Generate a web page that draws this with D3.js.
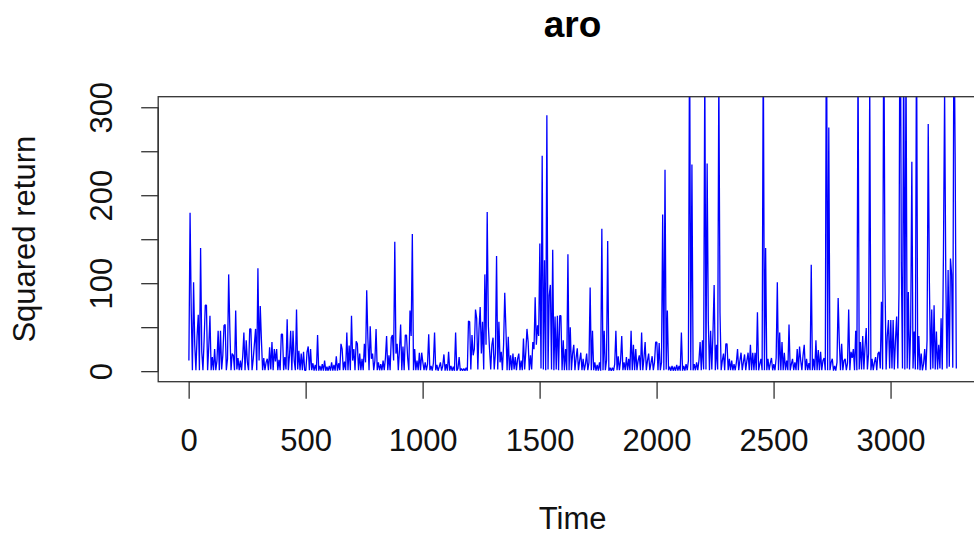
<!DOCTYPE html>
<html><head><meta charset="utf-8">
<script src="https://cdn.jsdelivr.net/npm/d3@7"></script>
<style>body{margin:0;background:#fff;overflow:hidden}</style>
</head><body>
<svg id="c" width="974" height="535"></svg>
<script>
// ---- data ----
const chartTitle = "aro";
const xAxisTitle = "Time";
const yAxisTitle = "Squared return";
const xTickValues = [0, 500, 1000, 1500, 2000, 2500, 3000];
const yTickValues = [0, 50, 100, 150, 200, 250, 300];
const yLabelledTicks = [0, 100, 200, 300];
const yLimits = [0, 300];
const timeStart = 1, timeStep = 5;

const seg0 = [12,180,69,1,101,30,1,40,64,1,140,22,1,35,75,75,1,28,63,1,16,1,25,1,12,46,1,46,2,18,52,53,1,14,110,48,1,20,18,1,69,2,15,1,12,1,17,44,1,35,10,1,48,48,1,14,31,48,1,117,12,74,35,1,15,1,10,14,1,27,2,33,1,25,11,25,1,13,1,42,42,1,16,2,59,1,18,46,1,46,12,1,70,2,23,1,20,1,22,1];
const seg1 = [1,22,28,1,25,1,9,0.5,7,0.5,41,0.5,6,0.5,8,0.5,12,0.5,5,0.5,6,0.5,10,0.5,7,0.5,17,0.5,9,1,31,25,1,11,1,44,1,29,1,63,12,25,1,34,31,1,20,1,14,1,31,10,92,37,1,51,14,20,1,12,48,1,10,1,8,1,12,1,15,40,1,18,1,38,41,12,147,20,31,1,24,53,1,28,1,41,41,15,1,69,40,156,1,25,1,12,1,21,1,21];
const seg2 = [10,1,10,1,8,42,1,6,0.5,9,44,1,7,0.5,5,10,0.5,6,19,0.5,8,0.5,22,0.5,6,0.5,5,0.5,44,0.5,3,16,0.5,3,0.5,3,0.5,4,0.5,57,56,2,41,18,25,70,60,2,48,73,20,56,2,110,30,181,51,25,2,30,38,2,20,131,2,56,10,22,1,30,89,48,1,39,1,18,1,20,2,16,1,14,20,1,12,1,37,2,22,48,33,1,18,2,33,25,84,30,52,40];
const seg3 = [145,3,245,2,126,1,291,2,86,98,2,138,1,62,2,63,1,63,63,1,35,1,25,1,133,1,50,1,20,30,1,15,26,1,12,21,1,14,1,8,20,1,10,95,1,46,1,10,0.5,7,0.5,10,0.5,162,1,46,1,12,148,0.5,4,0.5,4,0.5,8,46,1,17,1,12,40,1,10,1,16,1,14,1,46,1,30,1,25,1,12,18,1,44,1,15,33,1,12,20,1,9,17,1,10,33];
const seg4 = [33,1,32,1,10,178,1,229,2,69,1,5,0.5,6,0.5,5,0.5,7,0.5,6,0.5,44,0.5,6,0.5,8,1,12,400,1,235,1,8,1,10,1,12,33,1,35,2,350,2,236,57,1,46,2,44,98,1,30,2,340,67,1,12,20,1,31,31,1,14,1,12,1,8,1,10,25,1,12,21,1,10,19,1,12,21,1,30,1,21,1,21,1,67,1,8,14,1,380,1,140,1,14,1,9,15,1];
const seg5 = [8,1,15,101,1,44,1,33,1,21,1,12,1,53,1,8,14,1,10,1,25,1,28,12,1,18,30,1,14,1,9,1,121,1,14,1,35,1,24,1,22,1,12,15,1,450,1,277,1,10,14,0.5,6,0.5,10,83,33,1,31,1,12,14,1,9,70,1,22,15,25,1,46,1,360,2,33,2,40,2,28,49,2,20,330,1,14,1,10,16,1,20,22,3,79,2,420,109,2,40,58,3];
const seg6 = [58,3,58,2,35,62,3,90,500,124,3,380,2,360,3,90,2,50,238,3,45,2,400,2,40,1,20,1,8,25,1,35,281,100,2,70,3,75,2,45,2,30,3,60,2,132,320,109,3,115,5,128,110,4,420,247,3];

const values = [].concat(seg0, seg1, seg2, seg3, seg4, seg5, seg6);
const series = values.map((v, i) => ({ t: timeStart + i * timeStep, v }));

// ---- layout ----
const plotLeft = 158.2, plotRight = 987, plotTop = 96.7, plotBottom = 381.7;
const fontFamily = "'Liberation Sans', Arial, Helvetica, sans-serif";

const svg = d3.select("#c");

const tMin = d3.min(series, d => d.t), tMax = d3.max(series, d => d.t);
const xPad = 0.04 * (tMax - tMin);
const x = d3.scaleLinear().domain([tMin - xPad, tMax + xPad]).range([plotLeft, plotRight]);
const yPad = 0.04 * (yLimits[1] - yLimits[0]);
const y = d3.scaleLinear().domain([yLimits[0] - yPad, yLimits[1] + yPad]).range([plotBottom, plotTop]);

svg.append("defs").append("clipPath").attr("id", "plotclip")
  .append("rect").attr("x", plotLeft).attr("y", plotTop)
  .attr("width", plotRight - plotLeft).attr("height", plotBottom - plotTop);

// data line
svg.append("path")
  .datum(series)
  .attr("clip-path", "url(#plotclip)")
  .attr("fill", "none")
  .attr("stroke", "#0000ff")
  .attr("stroke-width", 1.3)
  .attr("stroke-linejoin", "bevel")
  .attr("d", d3.line().x(d => x(d.t)).y(d => y(d.v)));

// box
svg.append("rect")
  .attr("x", plotLeft).attr("y", plotTop)
  .attr("width", plotRight - plotLeft).attr("height", plotBottom - plotTop)
  .attr("fill", "none").attr("stroke", "#333").attr("stroke-width", 1.3);

// x axis
const xAxis = d3.axisBottom(x).tickValues(xTickValues).tickSize(17).tickPadding(0).tickFormat(d3.format("d"));
const gx = svg.append("g").attr("transform", `translate(0,${plotBottom})`).call(xAxis);
gx.select(".domain").attr("stroke", "#333").attr("stroke-width", 1.3)
  .attr("d", `M${x(xTickValues[0])},0H${x(xTickValues[xTickValues.length - 1])}`);
gx.selectAll(".tick line").attr("stroke", "#333").attr("stroke-width", 1.3);
gx.selectAll(".tick text")
  .attr("y", 69).attr("dy", null)
  .attr("font-family", fontFamily).attr("font-size", 31).attr("fill", "#111");

// y axis
const yAxis = d3.axisLeft(y).tickValues(yTickValues).tickSize(17).tickPadding(0)
  .tickFormat(d => yLabelledTicks.includes(d) ? d3.format("d")(d) : "");
const gy = svg.append("g").attr("transform", `translate(${plotLeft},0)`).call(yAxis);
gy.select(".domain").attr("stroke", "#333").attr("stroke-width", 1.3)
  .attr("d", `M0,${y(yTickValues[0])}V${y(yTickValues[yTickValues.length - 1])}`);
gy.selectAll(".tick line").attr("stroke", "#333").attr("stroke-width", 1.3);
gy.selectAll(".tick text")
  .attr("x", null).attr("dy", null)
  .attr("transform", "translate(-46,0) rotate(-90)")
  .attr("text-anchor", "middle")
  .attr("font-family", fontFamily).attr("font-size", 31).attr("fill", "#111");

const cx = (plotLeft + plotRight) / 2;
// title
svg.append("text").attr("x", cx).attr("y", 37)
  .attr("text-anchor", "middle").attr("font-family", fontFamily)
  .attr("font-weight", "bold").attr("font-size", 37).attr("fill", "#000")
  .text(chartTitle);
// x title
svg.append("text").attr("x", cx).attr("y", 529)
  .attr("text-anchor", "middle").attr("font-family", fontFamily)
  .attr("font-size", 31).attr("fill", "#111").text(xAxisTitle);
// y title
svg.append("text")
  .attr("transform", `translate(35,${(plotTop + plotBottom) / 2}) rotate(-90)`)
  .attr("text-anchor", "middle").attr("font-family", fontFamily)
  .attr("font-size", 31).attr("fill", "#111").text(yAxisTitle);
</script>
</body></html>
